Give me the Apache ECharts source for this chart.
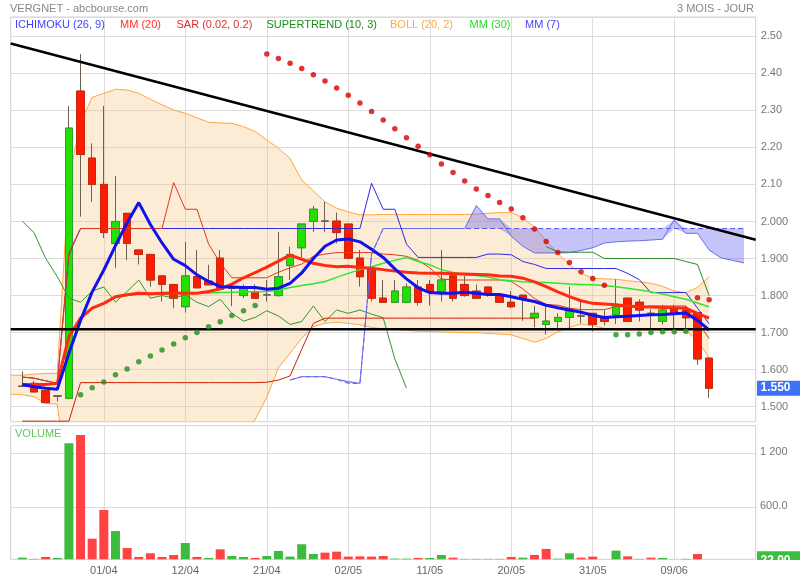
<!DOCTYPE html>
<html><head><meta charset="utf-8">
<script src="https://cdn.jsdelivr.net/npm/echarts@6/dist/echarts.min.js"></script>
<style>html,body{margin:0;padding:0;background:#fff}#c{width:800px;height:580px}</style>
</head><body><div id="c"></div>
<script>
// ---- sessions (2016) ----
const dates = ['21/03','22/03','23/03','24/03','29/03','30/03','31/03','01/04','04/04','05/04',
'06/04','07/04','08/04','11/04','12/04','13/04','14/04','15/04','18/04','19/04',
'20/04','21/04','22/04','25/04','26/04','27/04','28/04','29/04','02/05','03/05',
'04/05','05/05','06/05','09/05','10/05','11/05','12/05','13/05','16/05','17/05',
'18/05','19/05','20/05','23/05','24/05','25/05','26/05','27/05','30/05','31/05',
'01/06','02/06','03/06','06/06','07/06','08/06','09/06','10/06','13/06','14/06'];
const tickLabels = ['01/04','12/04','21/04','02/05','11/05','20/05','31/05','09/06'];
const priceTicks = [1.5,1.6,1.7,1.8,1.9,2.0,2.1,2.2,2.3,2.4,2.5];
const volTicks = [600, 1200];
const volTickText = ['600.0', '1 200'];

const open  = [1.555,1.563,1.543,1.529,1.523,2.352,2.171,2.100,1.941,2.022, 1.923,1.911,1.853,1.830,1.770,1.851,1.839,1.901,1.819,1.800,
1.811,1.802,1.800,1.881,1.929,2.000,2.001,2.001,1.993,1.901, 1.871,1.793,1.782,1.782,1.823,1.830,1.811,1.853,1.830,1.812,
1.823,1.801,1.782,1.801,1.740,1.722,1.730,1.741,1.745,1.752, 1.740,1.748,1.793,1.782,1.752,1.730,1.763,1.761,1.754,1.631];
const high  = [1.595,1.570,1.543,1.529,2.312,2.452,2.211,2.312,2.123,2.022, 1.923,1.911,1.853,1.830,1.944,1.923,1.883,1.923,1.829,1.830,
1.830,1.842,1.972,1.932,1.993,2.042,2.053,2.024,1.993,1.923, 1.871,1.842,1.842,1.833,1.842,1.842,1.923,1.864,1.853,1.830,
1.823,1.801,1.812,1.801,1.772,1.772,1.752,1.824,1.784,1.752, 1.760,1.844,1.793,1.790,1.763,1.775,1.775,1.772,1.754,1.631];
const low   = [1.555,1.540,1.510,1.514,1.520,2.013,2.053,1.955,1.874,1.896, 1.884,1.824,1.784,1.766,1.754,1.820,1.829,1.815,1.772,1.793,
1.793,1.784,1.797,1.842,1.903,1.972,1.972,1.941,1.900,1.824, 1.784,1.780,1.782,1.780,1.773,1.773,1.784,1.784,1.797,1.793,
1.797,1.782,1.766,1.732,1.714,1.695,1.712,1.712,1.725,1.703, 1.720,1.723,1.730,1.730,1.712,1.722,1.712,1.712,1.613,1.524];
const close = [1.555,1.540,1.511,1.529,2.252,2.181,2.100,1.970,2.000,1.941, 1.911,1.842,1.830,1.793,1.853,1.821,1.829,1.817,1.819,1.822,
1.793,1.802,1.851,1.911,1.993,2.033,2.001,1.970,1.901,1.851, 1.793,1.782,1.812,1.823,1.782,1.811,1.842,1.793,1.800,1.793,
1.802,1.782,1.770,1.790,1.752,1.731,1.741,1.759,1.745,1.722, 1.730,1.772,1.730,1.761,1.752,1.761,1.750,1.740,1.629,1.550];
const volume = [40,26,48,37,1311,1403,251,570,336,148, 48,89,48,70,203,48,37,133,59,48,
37,59,115,52,189,81,96,107,52,55, 52,59,29,29,37,37,70,40,26,26,
26,26,48,40,70,137,29,89,40,52, null,118,55,26,40,37,null,26,81,22];

// ---- indicators ----
const ma7  = [1.560,1.554,1.550,1.547,1.644,1.733,1.810,1.869,1.935,1.996, 2.051,1.992,1.942,1.898,1.881,1.856,1.838,1.824,1.823,1.822,
1.822,1.817,1.820,1.833,1.861,1.900,1.933,1.950,1.953,1.945, 1.925,1.903,1.872,1.845,1.821,1.808,1.806,1.806,1.809,1.806,
1.803,1.803,1.797,1.790,1.784,1.774,1.767,1.761,1.755,1.747, 1.741,1.743,1.744,1.746,1.748,1.749,1.751,1.753,1.733,1.707];
const ma20 = [1.560,1.560,1.560,1.563,1.689,1.739,1.766,1.779,1.797,1.802, 1.806,1.805,1.806,1.807,1.806,1.806,1.811,1.818,1.831,1.848,
1.862,1.877,1.893,1.909,1.898,1.887,1.881,1.878,1.879,1.876, 1.874,1.870,1.866,1.863,1.861,1.860,1.860,1.859,1.858,1.857,
1.856,1.853,1.852,1.847,1.837,1.824,1.810,1.797,1.786,1.779, 1.777,1.775,1.772,1.770,1.769,1.768,1.767,1.766,1.752,1.739];
const ma30 = [1.560,1.560,1.560,1.563,1.689,1.739,1.766,1.779,1.795,1.800, 1.804,1.803,1.804,1.805,1.805,1.806,1.807,1.808,1.809,1.810,
1.810,1.811,1.815,1.822,1.827,1.832,1.838,1.849,1.860,1.870, 1.878,1.887,1.895,1.903,1.892,1.883,1.870,1.862,1.857,1.854,
1.850,1.843,1.840,1.837,1.836,1.835,1.833,1.831,1.830,1.829, 1.827,1.824,1.820,1.815,1.810,1.804,1.797,1.790,1.780,1.770];
const tenkan = [1.580,1.577,1.570,1.563,1.915,1.981,1.981,1.981,1.981,1.981, 1.981,1.981,1.981,2.105,2.033,2.033,1.939,1.888,1.848,1.848,
1.848,1.848,1.863,1.875,1.885,1.906,1.912,1.916,1.916,1.916, 1.916,1.912,1.910,1.906,1.895,1.875,1.845,1.842,1.842,1.842,
1.842,1.842,1.838,1.818,1.792,1.776,1.774,1.766,1.762,1.762, 1.762,1.770,1.770,1.770,1.772,1.772,1.772,1.772,1.729,1.684];
const kijun = [1.580,1.577,1.570,1.563,1.911,1.981,1.981,1.981,1.981,1.981, 1.981,1.981,1.981,1.981,1.981,1.981,1.981,1.981,1.981,1.981,
1.981,1.981,1.981,1.981,1.981,1.981,1.981,1.981,1.981,1.981, 2.103,2.033,2.033,1.939,1.903,1.903,1.903,1.903,1.903,1.903,
1.912,1.912,1.910,1.892,1.884,1.873,1.873,1.873,1.873,1.873, 1.873,1.873,1.860,1.843,1.808,1.808,1.808,1.808,1.766,1.724];
const chikou = [2.001,1.970,1.901,1.851,1.793,1.782,1.812,1.823,1.782,1.811, 1.842,1.793,1.800,1.793,1.802,1.782,1.770,1.790,1.752,1.731,
1.741,1.759,1.745,1.722,1.730,1.772,1.730,1.761,1.752,1.761, 1.750,1.740,1.629,1.550];
const senkouStart = 23; // first session index where the cloud is drawn
const senkouA = [1.572,1.581,1.581,1.581,1.574,1.568,1.563,1.913,1.981,1.981, 1.981,1.981,1.981,1.981,1.981,1.981,2.043,2.007,2.007,1.960,
1.933,1.915,1.915,1.915,1.916,1.922,1.929,1.942,1.945,1.947, 1.948,1.950,1.952,2.004,1.968,1.968,1.923,1.902,1.895,1.888];
const senkouB = [1.572,1.581,1.581,1.581,1.574,1.563,1.563,1.911,1.981,1.981, 1.981,1.981,1.981,1.981,1.981,1.981,1.981,1.981,1.981,1.981,
1.981,1.981,1.981,1.981,1.981,1.981,1.981,1.981,1.981,1.981, 1.981,1.981,1.981,1.981,1.981,1.981,1.981,1.981,1.981,1.981];
// Bollinger: first value is the session before the window
const bollUpper = [1.585, 1.585,1.588,1.590,1.590,2.115,2.268,2.335,2.346,2.357,2.355, 2.346,2.330,2.315,2.301,2.292,2.280,2.268,2.266,2.265,2.256,
2.243,2.220,2.198,2.170,2.112,2.083,2.053,2.036,2.026,2.018, 2.018,2.019,2.019,2.019,2.019,2.019,2.019,2.019,2.019,2.020,
2.022,2.024,2.024,2.010,1.985,1.948,1.914,1.883,1.860,1.847, 1.845,1.844,1.840,1.837,1.833,1.825,1.812,1.808,1.822,1.851];
const bollLower = [1.534, 1.532,1.527,1.509,1.507,1.260,1.210,1.200,1.210,1.230,1.250, 1.270,1.280,1.290,1.300,1.320,1.330,1.350,1.370,1.390,1.420,
1.465,1.525,1.605,1.644,1.685,1.716,1.725,1.728,1.725,1.721, 1.714,1.710,1.708,1.706,1.704,1.703,1.702,1.701,1.700,1.700,
1.698,1.696,1.694,1.684,1.674,1.684,1.702,1.714,1.723,1.718, 1.712,1.707,1.707,1.707,1.707,1.707,1.707,1.705,1.680,1.631];
const sar = [null,null,null,null,null,1.532,1.551,1.567,1.586,1.602, 1.621,1.637,1.653,1.669,1.686,1.700,1.716,1.729,1.746,1.759,
1.773,2.452,2.440,2.427,2.413,2.396,2.379,2.360,2.341,2.320, 2.297,2.274,2.250,2.226,2.203,2.180,2.155,2.132,2.109,2.088,
2.070,2.051,2.034,2.010,1.980,1.946,1.916,1.889,1.864,1.846, 1.828,1.694,1.694,1.696,1.700,1.702,1.702,1.704,1.794,1.789];
const supertrend = [1.461,1.461,1.461,1.461,1.461,1.565,1.565,1.565,1.565,1.565, 1.565,1.565,1.565,1.565,1.565,1.565,1.565,1.565,1.565,1.565,
1.565,1.566,1.572,1.583,1.655,1.725,1.739,1.739,1.739,1.739, 1.739,1.739,1.739,1.739,1.739,1.739,1.739,1.739,1.739,1.739,
1.739,1.739,1.739,1.739,1.739,1.932,1.918,1.917,1.917,1.917, 1.900,1.900,1.900,1.900,1.900,1.900,1.900,1.892,1.884,1.800];
const supportLevel = 1.709;
const trendEnds = [2.4806, 1.9506]; // value at the left and right chart edges

// ---- build ----
const FONT = "'Liberation Sans', Arial, sans-serif";
const N = dates.length;
const categories = ['pre', ...dates, 'f1', 'f2', 'f3', 'f4'];
const C = categories.length;
function place(values, firstDay) {
  const out = new Array(C).fill('-');
  values.forEach((v, i) => { if (v !== null && v !== undefined) out[firstDay + 1 + i] = v; });
  return out;
}
const emptyC = ['-','-','-','-'];
const wickData = categories.map((_, k) => { const i = k - 1; return (i >= 0 && i < N) ? [open[i], close[i], low[i], high[i]] : emptyC; });
const bodyData = categories.map((_, k) => { const i = k - 1; return (i >= 0 && i < N) ? [open[i], close[i], Math.min(open[i], close[i]), Math.max(open[i], close[i])] : emptyC; });
const volData = place(volume.map((v, i) => v === null ? null : ({
  value: v, itemStyle: { color: (i === 0 || close[i] >= close[i - 1]) ? '#3dbb3d' : '#ff4242' }
})), 0);
const bollDiff = bollUpper.map((u, i) => u - bollLower[i]);
const kumoBase = senkouA.map((a, i) => Math.min(a, senkouB[i]));
const kumoDiff = senkouA.map((a, i) => Math.abs(a - senkouB[i]));
const stBull = supertrend.map((v, i) => v < close[i] ? v : null);
const stBear = supertrend.map((v, i) => v >= close[i] ? v : null);
const sarBull = sar.map((v, i) => (v !== null && v < close[i]) ? v : null);
const sarBear = sar.map((v, i) => (v !== null && v >= close[i]) ? v : null);

function line(name, data, color, width, z, extra) {
  return Object.assign({ name, type: 'line', xAxisIndex: 0, yAxisIndex: 0, data, symbol: 'none', showSymbol: false,
    lineStyle: { color, width }, z, silent: true, animation: false }, extra || {});
}
const showTick = (i, v) => tickLabels.indexOf(v) >= 0;
const gridLine = { color: '#dcdcdc', width: 1 };
const yMin = 1.4595, yMax = 2.552;

const chart = echarts.init(document.getElementById('c'), null, { renderer: 'canvas', width: 800, height: 580 });
chart.setOption({
  animation: false,
  textStyle: { fontFamily: FONT },
  grid: [
    { left: 10.7, right: 44.3, top: 17, height: 404.7, show: true, borderColor: '#d0d0d0', borderWidth: 1, backgroundColor: '#fff', containLabel: false, outerBoundsMode: 'none' },
    { left: 10.7, right: 44.3, top: 425.7, height: 133.6, show: true, borderColor: '#d0d0d0', borderWidth: 1, backgroundColor: '#fff', containLabel: false, outerBoundsMode: 'none' }
  ],
  xAxis: [
    { gridIndex: 0, type: 'category', data: categories, boundaryGap: false, axisLine: { show: false }, axisTick: { show: false },
      axisLabel: { show: false }, splitLine: { show: true, interval: showTick, lineStyle: gridLine } },
    { gridIndex: 1, type: 'category', data: categories, boundaryGap: false, axisLine: { show: false }, axisTick: { show: false },
      axisLabel: { show: true, interval: showTick, color: '#666', fontSize: 11, margin: 6.5, fontFamily: FONT },
      splitLine: { show: true, interval: showTick, lineStyle: gridLine } }
  ],
  yAxis: [
    { gridIndex: 0, type: 'value', min: yMin, max: yMax, splitNumber: 11, position: 'right', scale: true,
      axisLine: { show: false }, axisTick: { show: false },
      axisLabel: { color: '#777', fontSize: 11, margin: 5, fontFamily: FONT, showMinLabel: false, showMaxLabel: false,
        verticalAlign: 'middle', padding: [0, 0, 5, 0],
        formatter: v => { const r = Math.round(v * 10) / 10; if (Math.abs(v - r) > 1e-6 || priceTicks.indexOf(r) < 0) return ''; return r > 2.05 ? r.toFixed(2) : r.toFixed(3); } },
      splitLine: { show: true, lineStyle: gridLine } },
    { gridIndex: 1, type: 'value', min: 22, max: 1507, position: 'right', scale: true,
      axisLine: { show: false }, axisTick: { show: false }, axisLabel: { show: false }, splitLine: { show: false } }
  ],
  series: [
    line('bollLower', place(bollLower, -1), '#ffa640', 1, 1, { stack: 'boll' }),
    line('bollUpper', place(bollDiff, -1), '#ffa640', 1, 1, { stack: 'boll', areaStyle: { color: 'rgba(246,190,120,0.31)', opacity: 1 } }),
    line('kumoBase', place(kumoBase, senkouStart), 'rgba(0,0,0,0)', 0, 2, { stack: 'kumo' }),
    line('kumo', place(kumoDiff, senkouStart), 'rgba(0,0,0,0)', 0, 2, { stack: 'kumo', areaStyle: { color: 'rgba(80,80,240,0.33)', opacity: 1 } }),
    { name: 'wick', type: 'candlestick', xAxisIndex: 0, yAxisIndex: 0, data: wickData, barWidth: 8, z: 3, silent: true,
      itemStyle: { color: '#6e5f52', color0: '#6e5f52', borderColor: '#6e5f52', borderColor0: '#6e5f52', borderColorDoji: '#6e5f52', borderWidth: 1 } },
    { name: 'body', type: 'candlestick', xAxisIndex: 0, yAxisIndex: 0, data: bodyData, barWidth: 8, z: 3, silent: true,
      itemStyle: { color: '#22e000', color0: '#ff1a00', borderColor: '#2f9f2f', borderColor0: '#c42a10', borderColorDoji: '#6e5f52', borderWidth: 1 } },
    line('senkouB', place(senkouB, senkouStart), '#5656ee', 1, 4, { lineStyle: { color: '#5656ee', width: 1, type: [5, 3] } }),
    line('senkouA', place(senkouA, senkouStart), '#6a6af0', 1, 4),
    line('chikou', place(chikou, 0), '#2f9a2f', 1, 4),
    line('stBull', place(stBull, 0), '#cc2200', 1, 4),
    line('stBear', place(stBear, 0), '#2a8a2a', 1, 4),
    line('kijun', place(kijun, 0), '#2a2ae6', 1, 4),
    line('tenkan', place(tenkan, 0), '#e33a1a', 1, 4),
    line('mm30', place(ma30, 0), '#2ee82e', 1.5, 4),
    line('mm20', place(ma20, 0), '#ff2a10', 3, 4),
    line('mm7', place(ma7, 0), '#1111ee', 3, 4),
    line('support', [[0, supportLevel], [C - 1, supportLevel]], '#000', 2.5, 5),
    line('trend', [[0, trendEnds[0]], [C - 1, trendEnds[1]]], '#000', 2.5, 5),
    { name: 'sarBull', type: 'scatter', xAxisIndex: 0, yAxisIndex: 0, data: place(sarBull, 0), symbolSize: 5.5, z: 6, silent: true, itemStyle: { color: '#1f8f1f' } },
    { name: 'sarBear', type: 'scatter', xAxisIndex: 0, yAxisIndex: 0, data: place(sarBear, 0), symbolSize: 5.5, z: 6, silent: true, itemStyle: { color: '#d90000' } },
    { name: 'volume', type: 'bar', xAxisIndex: 1, yAxisIndex: 1, data: volData, barWidth: 9, z: 3, silent: true,
      markLine: { silent: true, symbol: 'none', z: 1, label: { show: false }, lineStyle: { color: '#dcdcdc', type: 'solid', width: 1 },
        data: volTicks.map(v => ({ yAxis: v })) } }
  ]
});

// ---- texts and value boxes ----
const tf = (size, bold) => (bold ? 'bold ' : '') + size + 'px ' + FONT;
function txt(text, x, y, color, opts) {
  return Object.assign({ type: 'text', x, y, z: 100, silent: true,
    style: { text, fill: color, font: tf(11), align: 'left', verticalAlign: 'middle', textAlign: 'left', textVerticalAlign: 'middle' } }, opts || {});
}
const legendItems = [
  ['ICHIMOKU (26, 9)', '#3f3fff', 15], ['MM (20)', '#ff3030', 120], ['SAR (0.02, 0.2)', '#e03030', 176.5],
  ['SUPERTREND (10, 3)', '#1a8c1a', 266.5], ['BOLL (20, 2)', '#ffaa44', 390], ['MM (30)', '#22dd22', 469.5], ['MM (7)', '#4444ff', 525]
];
const g = [];
g.push(txt('VERGNET - abcbourse.com', 10, 8.5, '#888'));
const r = txt('3 MOIS - JOUR', 754, 8.5, '#888'); r.style.align = 'right'; r.style.textAlign = 'right'; g.push(r);
legendItems.forEach(([t, c, x]) => g.push(txt(t, x, 25.3, c)));
g.push(txt('VOLUME', 15, 434, '#5cc65c'));
volTicks.forEach((v, i) => {
  const y = chart.convertToPixel({ yAxisIndex: 1 }, v);
  g.push(txt(volTickText[i], 760, y - 1.5, '#777'));
});
const py = chart.convertToPixel({ yAxisIndex: 0 }, close[N - 1]);
g.push({ type: 'rect', z: 100, silent: true, shape: { x: 757, y: py - 7.5, width: 43, height: 15 }, style: { fill: '#3d72f6' } });
g.push(txt(close[N - 1].toFixed(3), 760.5, py, '#fff', { style: { text: close[N - 1].toFixed(3), fill: '#fff', font: tf(12, true), align: 'left', verticalAlign: 'middle' } }));
const vy = chart.convertToPixel({ yAxisIndex: 1 }, volume[N - 1]);
g.push({ type: 'rect', z: 100, silent: true, shape: { x: 757, y: vy - 8, width: 43, height: 16 }, style: { fill: '#3dbf3d' } });
g.push(txt(volume[N - 1].toFixed(2), 760.5, vy + 1, '#fff', { style: { text: volume[N - 1].toFixed(2), fill: '#fff', font: tf(12, true), align: 'left', verticalAlign: 'middle' } }));
g.push({ type: 'rect', z: 101, silent: true, shape: { x: 756.5, y: vy + 0.6, width: 44, height: 9 }, style: { fill: '#fff' } });
chart.setOption({ graphic: g });
</script>
</body></html>
